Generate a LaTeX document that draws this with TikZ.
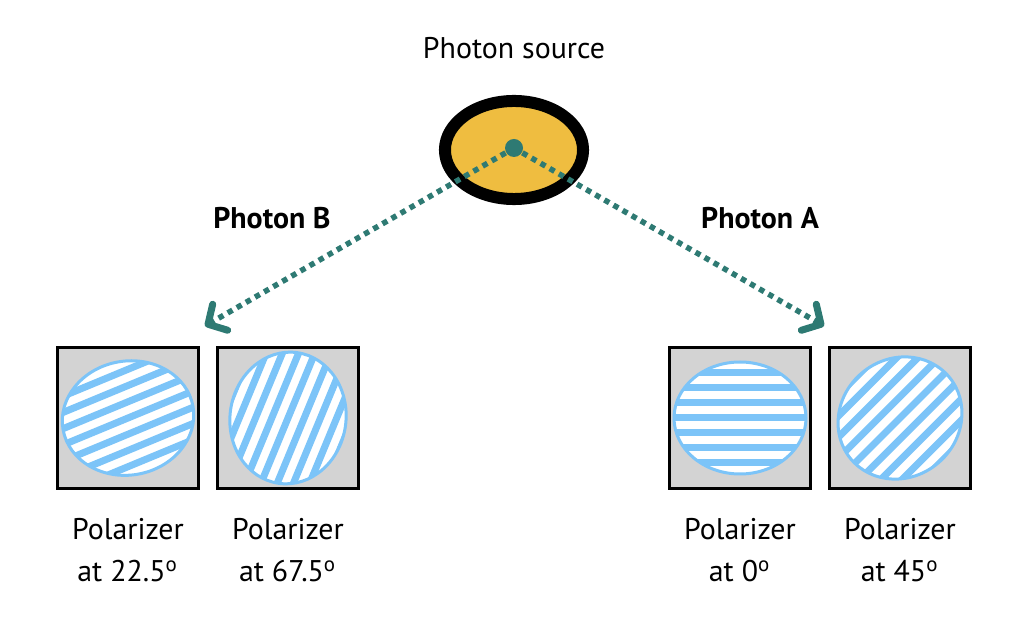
\documentclass[tikz,border=0pt]{standalone}
\usepackage{fontspec}
\setmainfont{PT Sans}
\usetikzlibrary{positioning,shapes.geometric,arrows.meta}

\definecolor{srcorange}{HTML}{EFBD40}
\definecolor{photonteal}{HTML}{2E7A73}
\definecolor{stripeblue}{HTML}{7CC4F8}
\definecolor{boxgray}{HTML}{D3D3D3}

\tikzset{
  polbox/.style={draw=black, fill=boxgray, line width=0.03cm, minimum size=1.40cm, inner sep=0},
  pollabel/.style={align=center, inner sep=0, font=\fontsize{8.5}{12}\selectfont},
  beamlabel/.style={inner sep=0, font=\fontsize{8.5}{12}\selectfont\bfseries},
  photon/.style={draw=photonteal, line width=0.055cm, dash pattern=on 0.055cm off 0.05cm,
    -{Straight Barb[length=0.14cm,width=0.30cm,line width=0.07cm,line cap=round,line join=round]}},
}

% box, striped lens clipped to an ellipse, lens outline
\newcommand{\polarizer}[6]{
	\node[polbox] (#1) at (#2,418) {};
	\begin{scope}
		\clip[rotate around={#6:(#1.center)}] (#1.center) ellipse [x radius=#4, y radius=#5];
		\fill[white] (#1.center) circle [radius=80];
		\begin{scope}[shift={(#1.center)}, rotate=#3]
			\foreach \k in {-6,...,6}
				\fill[stripeblue] (-90,\k*15-3.5) rectangle (90,\k*15+3.5);
		\end{scope}
	\end{scope}
	\draw[stripeblue, line width=0.03cm, rotate around={#6:(#1.center)}] (#1.center) ellipse [x radius=#4, y radius=#5];
}

\begin{document}
\begin{tikzpicture}[x=0.01cm, y=-0.01cm]
\useasboundingbox (0,0) rectangle (1024,640);

\node[pollabel] (srclabel) at (514,48) {Photon source};
\node[draw=black, line width=0.12cm, fill=srcorange, ellipse,
  minimum width=1.38cm, minimum height=0.98cm] (source) at (514,150) {};
\node[circle, fill=photonteal, minimum size=0.18cm, inner sep=0] (dot) at (514,148) {};

\coordinate (tipB) at (205,326);
\coordinate (tipA) at (824,326);
\draw[photon] (dot) -- (tipB);
\draw[photon] (dot) -- (tipA);

\node[beamlabel] (labB) at (272,218) {Photon B};
\node[beamlabel] (labA) at (760,218) {Photon A};

\polarizer{polB1}{128}{22.5}{66}{57}{10}
\polarizer{polB2}{288}{67.5}{58}{66}{-8}
\polarizer{polA1}{740}{0}{66}{56}{0}
\polarizer{polA2}{900}{45}{64}{59}{40}

\node[pollabel, below=0.28cm of polB1] (txtB1) {Polarizer\\at 22.5\textsuperscript{o}};
\node[pollabel, below=0.28cm of polB2] (txtB2) {Polarizer\\at 67.5\textsuperscript{o}};
\node[pollabel, below=0.28cm of polA1] (txtA1) {Polarizer\\at 0\textsuperscript{o}};
\node[pollabel, below=0.28cm of polA2] (txtA2) {Polarizer\\at 45\textsuperscript{o}};
\end{tikzpicture}
\end{document}
